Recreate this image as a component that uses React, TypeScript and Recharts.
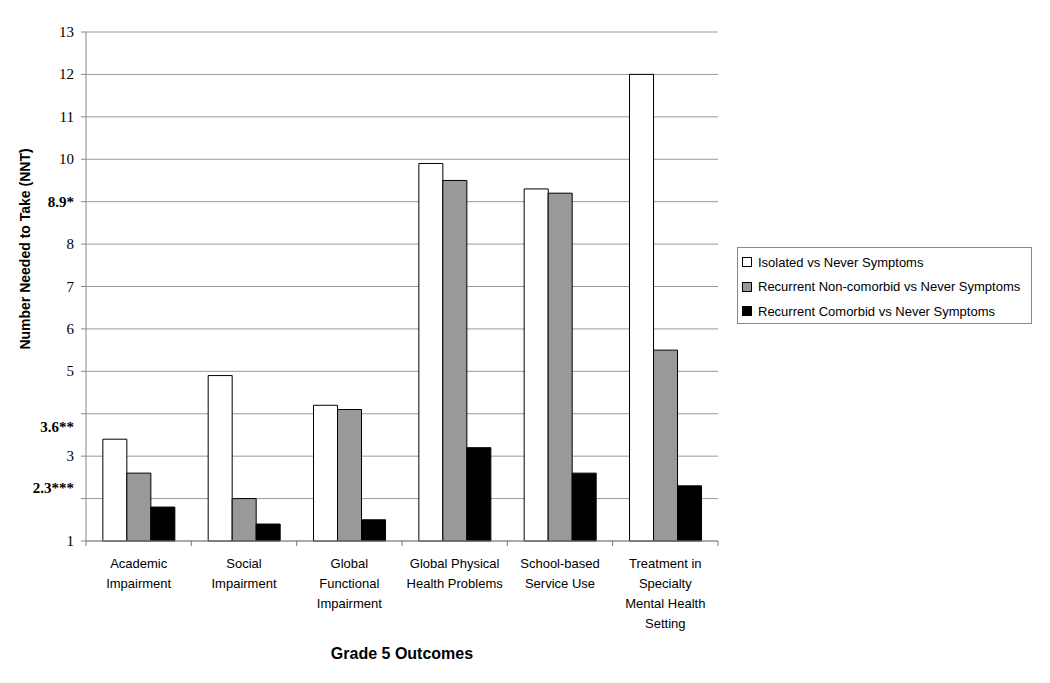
import { Bar, BarChart, CartesianGrid, Legend, XAxis, YAxis } from "recharts";

const categories = [
  "Academic Impairment",
  "Social Impairment",
  "Global Functional Impairment",
  "Global Physical Health Problems",
  "School-based Service Use",
  "Treatment in Specialty Mental Health Setting"
];

const categoryLines: Record<string, string[]> = {
  "Academic Impairment": ["Academic", "Impairment"],
  "Social Impairment": ["Social", "Impairment"],
  "Global Functional Impairment": ["Global", "Functional", "Impairment"],
  "Global Physical Health Problems": ["Global Physical", "Health Problems"],
  "School-based Service Use": ["School-based", "Service Use"],
  "Treatment in Specialty Mental Health Setting": ["Treatment in", "Specialty", "Mental Health", "Setting"]
};

const isolated = [3.4, 4.9, 4.2, 9.9, 9.3, 12.0];
const nonComorbid = [2.6, 2.0, 4.1, 9.5, 9.2, 5.5];
const comorbid = [1.8, 1.4, 1.5, 3.2, 2.6, 2.3];

const seriesNames = [
  "Isolated vs Never Symptoms",
  "Recurrent Non-comorbid vs Never Symptoms",
  "Recurrent Comorbid vs Never Symptoms"
];
const seriesColors = ["#ffffff", "#999999", "#000000"];

const yTicks = [1, 2, 3, 4, 5, 6, 7, 8, 9, 10, 11, 12, 13];
// thresholds printed in place of some integer ticks
const specialLabels: Record<number, string> = { 9: "8.9*", 4: "3.6**", 2: "2.3***" };
const specialShift: Record<number, number> = { 9: 0, 4: 13, 2: -11 };

const rows = categories.map((name, i) => ({
  name,
  isolated: isolated[i],
  nonComorbid: nonComorbid[i],
  comorbid: comorbid[i]
}));

function YTick({ x, y, payload }: any) {
  const v = payload.value;
  const special = specialLabels[v];
  return (
    <text
      x={x}
      y={y + (specialShift[v] ?? 0)}
      dy={5}
      textAnchor="end"
      fontFamily="'Liberation Serif', 'Times New Roman', serif"
      fontSize={15}
      fontWeight={special ? "bold" : "normal"}
      fill="#000"
    >
      {special ?? v}
    </text>
  );
}

// category label plus tick marks on the band edges
function CategoryTick({ x, y, payload, index }: any) {
  const lines = categoryLines[payload.value] ?? [payload.value];
  const half = payload.offset ?? 0;
  const base = y - 8;
  return (
    <g>
      <line x1={x - half} x2={x - half} y1={base} y2={base + 5} stroke="#777" />
      {index === categories.length - 1 ? (
        <line x1={x + half} x2={x + half} y1={base} y2={base + 5} stroke="#777" />
      ) : null}
      <text
        x={x}
        y={base}
        textAnchor="middle"
        fontFamily="'Liberation Sans', Arial, sans-serif"
        fontSize={13}
        fill="#000"
      >
        {lines.map((line, i) => (
          <tspan key={line} x={x} dy={i === 0 ? 27 : 20}>
            {line}
          </tspan>
        ))}
      </text>
    </g>
  );
}

function LegendBox() {
  return (
    <div
      style={{
        width: 293,
        height: 73,
        border: "1px solid #888",
        background: "#fff",
        fontFamily: "'Liberation Sans', Arial, sans-serif",
        fontSize: 13,
        color: "#000",
        boxSizing: "content-box",
        paddingTop: 2
      }}
    >
      {seriesNames.map((name, i) => (
        <div key={name} style={{ display: "flex", alignItems: "center", height: 24.5, paddingLeft: 4 }}>
          <span
            style={{
              display: "inline-block",
              width: 8,
              height: 8,
              border: "1px solid #000",
              background: seriesColors[i],
              marginRight: 6
            }}
          />
          {name}
        </div>
      ))}
    </div>
  );
}

export default function App() {
  return (
    <BarChart
      width={1034}
      height={675}
      data={rows}
      margin={{ top: 24, right: 324, bottom: 22, left: 0 }}
      barCategoryGap="16%"
      barGap={0}
    >
      <CartesianGrid vertical={false} stroke="#999" yAxisId="left" />
      <XAxis
        dataKey="name"
        height={120}
        interval={0}
        tick={<CategoryTick />}
        tickLine={false}
        axisLine={{ stroke: "#888" }}
        label={{
          content: ({ viewBox }: any) => (
            <text
              x={viewBox.x + viewBox.width / 2}
              y={viewBox.y + 118}
              textAnchor="middle"
              fontFamily="'Liberation Sans', Arial, sans-serif"
              fontSize={16}
              fontWeight="bold"
              fill="#000"
            >
              Grade 5 Outcomes
            </text>
          )
        }}
      />
      <YAxis
        yAxisId="left"
        domain={[1, 13]}
        ticks={yTicks}
        interval={0}
        width={78}
        tickSize={5}
        tickMargin={7}
        tick={<YTick />}
        axisLine={{ stroke: "#888" }}
        tickLine={{ stroke: "#888" }}
        label={{
          content: ({ viewBox }: any) => (
            <text
              x={17}
              y={viewBox.y + 217}
              transform={`rotate(-90, 17, ${viewBox.y + 217})`}
              textAnchor="middle"
              dominantBaseline="central"
              fontFamily="'Liberation Sans', Arial, sans-serif"
              fontSize={14}
              fontWeight="bold"
              fill="#000"
            >
              Number Needed to Take (NNT)
            </text>
          )
        }}
      />
      <YAxis
        yAxisId="right"
        orientation="right"
        domain={[1, 13]}
        width={0}
        tick={false}
        tickLine={false}
        axisLine={{ stroke: "#999", strokeWidth: 2 }}
      />
      <Legend
        layout="vertical"
        align="center"
        verticalAlign="middle"
        content={() => <LegendBox />}
        wrapperStyle={{ position: "absolute", left: 729, top: 239, width: "auto", height: "auto" }}
      />
      <Bar yAxisId="left" dataKey="isolated" name={seriesNames[0]} fill={seriesColors[0]} stroke="#000" strokeWidth={1} isAnimationActive={false} />
      <Bar yAxisId="left" dataKey="nonComorbid" name={seriesNames[1]} fill={seriesColors[1]} stroke="#000" strokeWidth={1} isAnimationActive={false} />
      <Bar yAxisId="left" dataKey="comorbid" name={seriesNames[2]} fill={seriesColors[2]} stroke="#000" strokeWidth={1} isAnimationActive={false} />
    </BarChart>
  );
}
